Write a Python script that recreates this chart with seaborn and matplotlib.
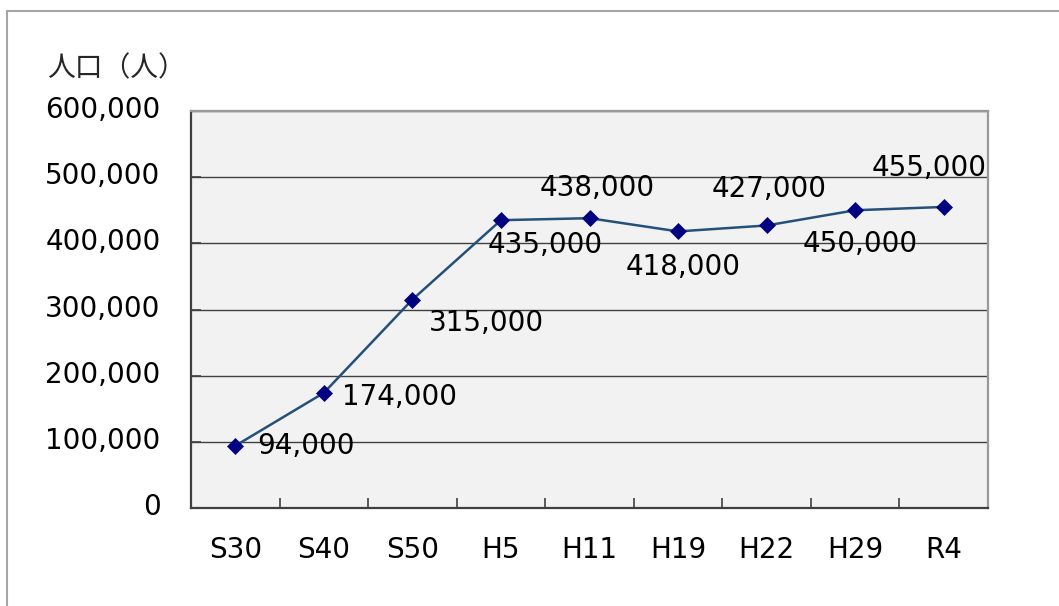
import matplotlib
matplotlib.use("Agg")
import matplotlib.pyplot as plt
import matplotlib.transforms as mtransforms
import seaborn as sns
import pandas as pd
from matplotlib.patches import Rectangle
from matplotlib.ticker import FixedLocator, FuncFormatter

categories = ["S30", "S40", "S50", "H5", "H11", "H19", "H22", "H29", "R4"]
population = [94000, 174000, 315000, 435000, 438000, 418000, 427000, 450000, 455000]
y_ticks = [0, 100000, 200000, 300000, 400000, 500000, 600000]
y_title = "人口（人）"

# label offsets in pixels (dx right, dy up)
label_offsets = [(71, 0), (76, -4), (74, -23), (44, -25), (8, 30),
                 (5, -36), (3, 36), (5, -34), (-15, 39)]

sns.set_theme(style="white")
plt.rcParams["font.family"] = ["DejaVu Sans"]

fig = plt.figure(figsize=(10.59, 6.06), dpi=100)
ax = fig.add_axes([191/1059, 1-508/606, (988-191)/1059, (508-111)/606])
ax.set_facecolor("#F2F2F2")

df = pd.DataFrame({"cat": categories, "pop": population})
sns.lineplot(data=df, x="cat", y="pop", ax=ax, color="#24507A", linewidth=1.8,
             marker="D", markersize=8, markerfacecolor="#000080",
             markeredgecolor="#000080", markeredgewidth=0.5, sort=False)

ax.set_xlim(-0.5, len(categories) - 0.5)
ax.set_ylim(0, 600000)
ax.yaxis.set_major_locator(FixedLocator(y_ticks))
ax.yaxis.set_major_formatter(FuncFormatter(lambda v, p: f"{int(v):,}"))
ax.grid(axis="y", color="#404040", linewidth=1)
ax.grid(axis="x", visible=False)
ax.set_axisbelow(True)
ax.set_xlabel("")
ax.set_ylabel("")

ax.tick_params(axis="y", direction="in", length=7, width=1.2, color="#404040",
               labelsize=20, pad=22, labelcolor="black", left=True)
ax.set_xticks(range(len(categories)))
ax.set_xticklabels(categories)
ax.set_xticks([i + 0.5 for i in range(len(categories) - 1)], minor=True)
ax.tick_params(axis="x", which="major", length=0, labelsize=20, pad=20, labelcolor="black")
ax.tick_params(axis="x", which="minor", direction="in", length=7, width=1.2,
               color="#404040", bottom=True)

shift = mtransforms.ScaledTranslation(0, 4/100, fig.dpi_scale_trans)
for lbl in ax.yaxis.get_majorticklabels():
    lbl.set_transform(lbl.get_transform() + shift)

for side in ["left", "bottom"]:
    ax.spines[side].set_color("#404040")
    ax.spines[side].set_linewidth(1.6)
for side in ["top", "right"]:
    ax.spines[side].set_color("#999999")
    ax.spines[side].set_linewidth(1.6)

for i, (v, off) in enumerate(zip(population, label_offsets)):
    ax.annotate(f"{v:,}", (i, v), xytext=off, textcoords="offset pixels",
                ha="center", va="center", fontsize=20, color="black")

fig.text(47/1059, 1-68/606, y_title, fontsize=20, ha="left", va="center",
         family=["Noto Sans CJK JP", "DejaVu Sans"])

fig.patches.append(Rectangle((7/1059, -0.1), 1.2, 1 - 11/606 + 0.1, fill=False,
                             edgecolor="#A6A6A6", linewidth=1.5,
                             transform=fig.transFigure, figure=fig, clip_on=False))

fig.savefig("out.png", dpi=100, facecolor="white")
